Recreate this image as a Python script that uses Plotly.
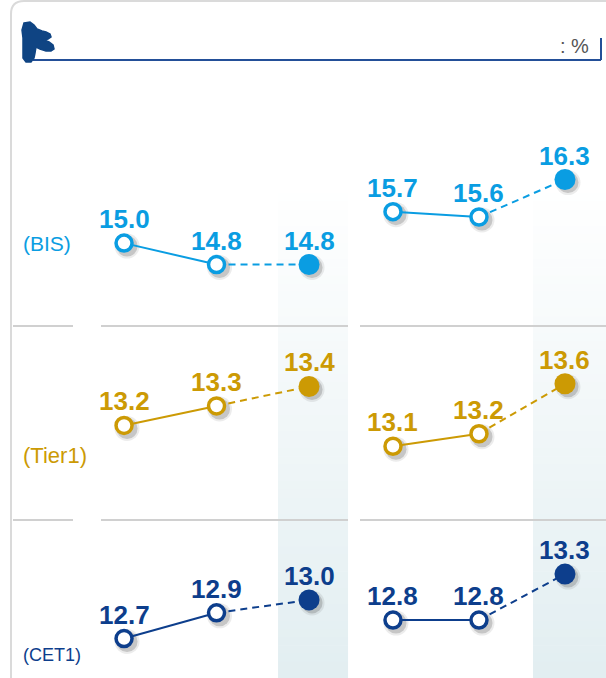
import plotly.graph_objects as go

# ── data ──────────────────────────────────────────────────────────────────────
periods = [0, 1, 2]                     # three periods per group, last one is the current
bis_left = [15.0, 14.8, 14.8]
bis_right = [15.7, 15.6, 16.3]
tier1_left = [13.2, 13.3, 13.4]
tier1_right = [13.1, 13.2, 13.6]
cet1_left = [12.7, 12.9, 13.0]
cet1_right = [12.8, 12.8, 13.3]
row_labels = ["(BIS)", "(Tier1)", "(CET1)"]
unit_label = ": %"

# ── style ─────────────────────────────────────────────────────────────────────
W, H = 606, 678
C_BIS, C_TIER, C_CET = "#0a9de2", "#cc9a04", "#0d3e8c"
FONT = "Liberation Sans, Arial, sans-serif"

# per-panel y ranges (each mini chart has its own scale)
# main traces live on x3/x4 so they are layered above the shadow subplots (x/x2)
panels = [
    # values, colour, x axis, y range
    (bis_left, C_BIS, "x3", [10.936, 17.272]),
    (bis_right, C_BIS, "x4", [6.983, 19.656]),
    (tier1_left, C_TIER, "x3", [11.905, 15.382]),
    (tier1_right, C_TIER, "x4", [11.246, 16.670]),
    (cet1_left, C_CET, "x3", [12.393, 17.665]),
    (cet1_right, C_CET, "x4", [12.170, 19.540]),
]
x_ranges = {"x3": [-1.341, 2.590], "x4": [-1.751, 2.477]}
x_domains = {"x3": [0, 0.6], "x4": [0.4, 1]}
shadow_x = {"x3": "x", "x4": "x2"}
SHADOW_PX = 3


def px(x):
    return x / W


def py(y):
    return 1 - y / H


def shifted(rng, pixels, length):
    d = pixels * (rng[1] - rng[0]) / length
    return [rng[0] + d, rng[1] + d]


def ax_key(name):
    return name[0] + "axis" + name[1:]


fig = go.Figure()
layout_axes = {}

for xa, sx in shadow_x.items():
    dom = x_domains[xa]
    layout_axes[ax_key(xa)] = dict(domain=dom, range=x_ranges[xa],
                                   visible=False, fixedrange=True)
    layout_axes[ax_key(sx)] = dict(
        domain=dom, range=shifted(x_ranges[xa], -SHADOW_PX, (dom[1] - dom[0]) * W),
        visible=False, fixedrange=True)

# 1. soft drop shadows (same scales, nudged a few pixels down-right)
for i, (vals, col, xa, yr) in enumerate(panels):
    sy = f"y{i + 1}" if i else "y"
    layout_axes[ax_key(sy)] = dict(
        domain=[0, 1], range=shifted(yr, SHADOW_PX, H), anchor=shadow_x[xa],
        visible=False, fixedrange=True)
    for size, op in ((25, 0.10), (21, 0.22)):
        fig.add_trace(go.Scatter(
            x=periods, y=vals, xaxis=shadow_x[xa], yaxis=sy, mode="markers",
            marker=dict(size=size, color="#404040", opacity=op, line_width=0),
            cliponaxis=False, hoverinfo="skip", showlegend=False))

# 2. lines + markers + value labels
for i, (vals, col, xa, yr) in enumerate(panels):
    ya = f"y{i + 7}"
    layout_axes[ax_key(ya)] = dict(domain=[0, 1], range=yr, anchor=xa,
                                   visible=False, fixedrange=True)
    fig.add_trace(go.Scatter(
        x=periods[:2], y=vals[:2], xaxis=xa, yaxis=ya, mode="lines",
        line=dict(color=col, width=2), cliponaxis=False,
        hoverinfo="skip", showlegend=False))
    fig.add_trace(go.Scatter(
        x=periods[1:], y=vals[1:], xaxis=xa, yaxis=ya, mode="lines",
        line=dict(color=col, width=2, dash="7px,5px"), cliponaxis=False,
        hoverinfo="skip", showlegend=False))
    fig.add_trace(go.Scatter(
        x=periods[:2], y=vals[:2], xaxis=xa, yaxis=ya, mode="markers",
        marker=dict(size=16, color="white", line=dict(color=col, width=3.5)),
        cliponaxis=False, showlegend=False))
    fig.add_trace(go.Scatter(
        x=periods[2:], y=vals[2:], xaxis=xa, yaxis=ya, mode="markers",
        marker=dict(size=21, color=col, line_width=0),
        cliponaxis=False, showlegend=False))
    for p, v in zip(periods, vals):
        fig.add_annotation(
            x=p, y=v, xref=xa, yref=ya, text=f"{v:.1f}", showarrow=False,
            yshift=24, font=dict(family=FONT, size=26, color=col, weight="bold"))

# ── decorations ───────────────────────────────────────────────────────────────
shapes = []

# shaded "current" columns with a vertical gradient
N = 60
top = py(185)
c0, c1 = (255, 255, 255), (226, 238, 241)
for xa, (x0, x1) in (("x3", (1.665, 2.422)), ("x4", (1.628, 2.477))):
    for k in range(N):
        t = (k + 0.5) / N
        col = tuple(round(a + (b - a) * t) for a, b in zip(c0, c1))
        shapes.append(dict(
            type="rect", xref=xa, yref="paper", x0=x0, x1=x1,
            y0=top - top * (k + 1) / N - 0.001, y1=top - top * k / N,
            fillcolor=f"rgb{col}", line_width=0, layer="below"))

# row separators
for y in (326, 520):
    for a, b in ((13, 73), (101, 348), (360, 606)):
        shapes.append(dict(type="line", xref="paper", yref="paper",
                           x0=px(a), x1=px(b), y0=py(y), y1=py(y),
                           line=dict(color="#d0d0d0", width=2), layer="below"))

# panel border with rounded top-left corner
shapes.append(dict(
    type="path", xref="paper", yref="paper",
    path=f"M {px(11)} {py(678)} L {px(11)} {py(14)} "
         f"Q {px(11)} {py(1)} {px(24)} {py(1)} L {px(606)} {py(1)}",
    line=dict(color="#dadada", width=2)))

# header rule + end tick
shapes.append(dict(type="line", xref="paper", yref="paper",
                   x0=px(33), x1=px(601), y0=py(60), y1=py(60),
                   line=dict(color="#234f98", width=2)))
shapes.append(dict(type="line", xref="paper", yref="paper",
                   x0=px(601), x1=px(601), y0=py(38), y1=py(60),
                   line=dict(color="#234f98", width=2)))

# header icon
icon = [(24, 23), (30, 22), (34, 25), (37, 29), (42, 31), (46, 32), (50, 34),
        (51, 37), (48, 39), (44, 40), (49, 42), (53, 45), (54, 49), (51, 51),
        (46, 51), (40, 49), (36, 47), (35, 53), (34, 58), (31, 62), (26, 62),
        (23, 58), (23, 48), (23, 38), (22, 30)]
icon_path = "M " + " L ".join(f"{px(a)} {py(b)}" for a, b in icon) + " Z"
shapes.append(dict(type="path", xref="paper", yref="paper", path=icon_path,
                   fillcolor="#0f4483", line=dict(color="#0f4483", width=1.5)))

# ── text ──────────────────────────────────────────────────────────────────────
fig.add_annotation(x=px(591), y=py(46), xref="paper", yref="paper",
                   xanchor="right", yanchor="middle", text=unit_label,
                   showarrow=False, font=dict(family=FONT, size=20, color="#555555"))
label_cfg = [(243, C_BIS, 21), (455, C_TIER, 22), (655, C_CET, 18)]
for txt, (y, col, size) in zip(row_labels, label_cfg):
    fig.add_annotation(x=px(21), y=py(y), xref="paper", yref="paper",
                       xanchor="left", yanchor="middle", text=txt, showarrow=False,
                       font=dict(family=FONT, size=size, color=col))

fig.update_layout(
    width=W, height=H,
    margin=dict(l=0, r=0, t=0, b=0),
    paper_bgcolor="white", plot_bgcolor="rgba(0,0,0,0)",
    shapes=shapes, showlegend=False, hovermode="closest",
    **layout_axes,
)

fig.write_html("out.html", config={"displayModeBar": False},
               post_script="document.body.style.margin='0';")
